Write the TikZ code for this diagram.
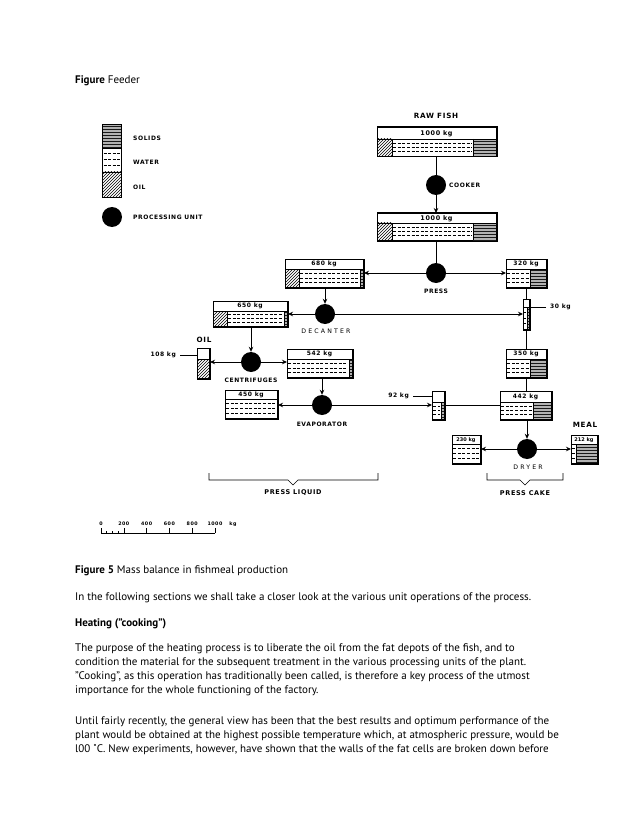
\documentclass[tikz,border=0pt]{standalone}
\usepackage{fontspec}
\setmainfont{PT Sans}
\newfontfamily\dfont[LetterSpace=10]{DejaVu Sans}
\newfontfamily\nfont[LetterSpace=0]{DejaVu Sans}
\newfontfamily\wfont[LetterSpace=35]{DejaVu Sans}
\usetikzlibrary{patterns,calc,arrows.meta}

\tikzset{
  boxn/.style={draw, line width=1pt, inner sep=0pt, fill=white},
  unitc/.style={circle, fill=black, minimum size=20pt, inner sep=0pt},
  flow/.style={line width=1pt},
  arr/.style={flow, -{Stealth[length=5pt,width=4.5pt]}},
  lbl/.style={font=\dfont\bfseries\fontsize{6}{7}\selectfont, inner sep=0pt},
  biglbl/.style={font=\dfont\bfseries\fontsize{7.2}{8}\selectfont, inner sep=0pt},
  wlbl/.style={font=\wfont\fontsize{6.2}{7}\selectfont, inner sep=0pt},
  waterdash/.style={line width=0.75pt, dash pattern=on 3pt off 1.6pt},
  oilfill/.style={pattern=north east lines, pattern color=black},
  body/.style={anchor=base west, inner sep=0pt, font=\fontsize{11}{13}\selectfont},
  thinl/.style={line width=0.6pt}
}

% name, x, y, w, hl, hb, label, oilw, solidw
\newcommand\massbox[9]{%
  \node[boxn, anchor=north west, minimum width=#4pt, minimum height=#5pt+#6pt] (#1) at (#2,#3) {};
  \pgfmathsetmacro\mbww{#4-#8-#9}%
  \ifdim #8pt>0pt
    \fill[oilfill] (#2,#3+#5) rectangle (#2+#8,#3+#5+#6);
    \draw[thinl] (#2+#8,#3+#5) -- (#2+#8,#3+#5+#6);
  \fi
  \ifdim #9pt>0pt
    \fill[gray!60] (#2+#4-#9,#3+#5) rectangle (#2+#4,#3+#5+#6);
    \fill[pattern=horizontal lines, pattern color=black!90] (#2+#4-#9,#3+#5) rectangle (#2+#4,#3+#5+#6);
    \draw[thinl] (#2+#4-#9,#3+#5) -- (#2+#4-#9,#3+#5+#6);
  \fi
  \ifdim \mbww pt>3pt
    \foreach \k in {1,2,3}{
      \draw[waterdash] (#2+#8+1.2,#3+#5+#6*\k/4) -- (#2+#4-#9-1.2,#3+#5+#6*\k/4);
    }
  \fi
  \draw[thinl] (#2,#3+#5) -- (#2+#4,#3+#5);
  \draw[line width=1pt] (#1.north west) rectangle (#1.south east);
  \node[lbl] at (#2+#4/2,#3+#5/2+0.3) {#7};
}

\begin{document}
\begin{tikzpicture}[x=1pt,y=-1pt]
\useasboundingbox (0,0) rectangle (638,826);
\fill[white] (0,0) rectangle (638,826);

% heading
\node[body] (head) at (75,84) {\textbf{Figure} Feeder};

% ---------- legend ----------
\fill[gray!60] (102,125) rectangle (121,148);
\fill[pattern=horizontal lines, pattern color=black!90] (102,125) rectangle (121,148);
\foreach \yy in {153,159,165}{\draw[waterdash] (103.5,\yy) -- (119.5,\yy);}
\fill[oilfill] (102,172) rectangle (121,198);
\draw[line width=1pt] (102,125) rectangle (121,198);
\draw[thinl] (102,148) -- (121,148);
\draw[thinl] (102,172) -- (121,172);
\node[lbl, anchor=west] (lsol) at (133,138) {SOLIDS};
\node[lbl, anchor=west] (lwat) at (133,162) {WATER};
\node[lbl, anchor=west] (loil) at (133,187) {OIL};
\node[unitc] (lunit) at (112,217) {};
\node[lbl, anchor=west] (lpu) at (133,217) {PROCESSING UNIT};

% ---------- boxes ----------
\node[biglbl] (rawfish) at (436,116) {RAW FISH};
\massbox{raw}{377}{127}{119}{12}{17}{\fontsize{6.4}{7}\selectfont 1000 kg}{15}{23}
\massbox{cooked}{377}{213}{119}{10}{17}{\fontsize{6.4}{7}\selectfont 1000 kg}{15}{23}
\massbox{b680}{285}{259}{78}{10}{18}{680 kg}{14}{3}
\massbox{b320}{506}{259}{40}{10}{18}{320 kg}{0}{16}
\massbox{s30}{523}{299}{6}{8}{22}{}{0}{2}
\massbox{b650}{213}{301}{74}{10}{15}{650 kg}{14}{3}
\massbox{oilbox}{197}{348}{12}{11}{19}{}{12}{0}
\massbox{b542}{287}{349}{65}{10}{18}{542 kg}{0}{3}
\massbox{b350}{506}{349}{40}{10}{18}{350 kg}{0}{16}
\massbox{b450}{225}{390}{52}{9}{19}{450 kg}{0}{0}
\massbox{s92}{432}{391}{12}{11}{17}{}{0}{3}
\massbox{b442}{500}{391}{51}{11}{17}{442 kg}{0}{18}
\massbox{b230}{452}{435}{28}{9}{19}{\nfont\bfseries\fontsize{5}{6}\selectfont 230 kg}{0}{0}
\massbox{b212}{571}{435}{26}{9}{19}{\nfont\bfseries\fontsize{5}{6}\selectfont 212 kg}{0}{21}

% ---------- processing units ----------
\node[unitc] (cooker) at (436,185) {};
\node[unitc] (press) at (436,273) {};
\node[unitc] (decanter) at (325,314) {};
\node[unitc] (centr) at (251,362) {};
\node[unitc] (evap) at (322,405) {};
\node[unitc] (dryer) at (527,449) {};

\node[lbl, anchor=west] (tcooker) at (449,185) {COOKER};
\node[lbl] (tpress) at (436,291) {PRESS};
\node[wlbl] (tdec) at (326,331) {DECANTER};
\node[lbl] (tcentr) at (251,380) {CENTRIFUGES};
\node[lbl] (tevap) at (322,424) {EVAPORATOR};
\node[wlbl] (tdryer) at (528,467) {DRYER};
\node[biglbl] (tmeal) at (585,425) {MEAL};
\node[biglbl] (toil) at (204,340) {OIL};

% ---------- connectors ----------
\draw[flow] (cooker |- raw.south) -- (cooker.north);
\draw[arr] (cooker.south) -- (cooker |- cooked.north);
\draw[flow] (press |- cooked.south) -- (press.north);
\draw[arr] (press.west) -- (press -| b680.east);
\draw[arr] (press.east) -- (press -| b320.west);
\draw[arr] (decanter |- b680.south) -- (decanter.north);
\draw[arr] (decanter.west) -- (decanter -| b650.east);
\draw[arr] (decanter.east) -- (decanter -| s30.west);
\draw[flow] (s30 |- b320.south) -- (s30.north);
\draw[flow] (s30.south) -- (s30 |- b350.north);
\draw[arr] (centr |- b650.south) -- (centr.north);
\draw[arr] (centr.west) -- (centr -| oilbox.east);
\draw[arr] (centr.east) -- (centr -| b542.west);
\draw[arr] (evap |- b542.south) -- (evap.north);
\draw[arr] (evap.west) -- (evap -| b450.east);
\draw[arr] (evap.east) -- (evap -| s92.west);
\draw[flow] (s92.east |- evap) -- (evap -| b442.west);
\draw[flow] (b350.south) -- (b350.south |- b442.north);
\draw[arr] (dryer |- b442.south) -- (dryer.north);
\draw[arr] (dryer.west) -- (dryer -| b230.east);
\draw[arr] (dryer.east) -- (dryer -| b212.west);

% side quantities
\node[lbl, anchor=east] (t108) at (176,355) {108 kg};
\draw[thinl] ($(t108.east)+(4,0)$) -- (t108 -| oilbox.west);
\node[lbl, anchor=west] (t30) at (550,307) {30 kg};
\draw[thinl] ($(t30.west)+(-4,0)$) -- (t30 -| s30.east);
\node[lbl, anchor=east] (t92) at (409,396) {92 kg};
\draw[thinl] ($(t92.east)+(4,0)$) -- (t92 -| s92.west);

% ---------- brackets ----------
\draw[thinl] (209,473) -- (209,480) -- (288,480) -- (293,485) -- (298,480) -- (378,480) -- (378,473);
\node[lbl, font=\dfont\bfseries\fontsize{6.5}{7}\selectfont] (tpl) at (293,493) {PRESS LIQUID};
\draw[thinl] (487,473) -- (487,480) -- (520,480) -- (525,485) -- (530,480) -- (563,480) -- (563,473);
\node[lbl, font=\dfont\bfseries\fontsize{6.5}{7}\selectfont] (tpc) at (525,493) {PRESS CAKE};

% ---------- scale ----------
\draw[thinl] (101,533) -- (215,533);
\foreach \sx in {101,123.8,146.6,169.4,192.2,215}{\draw[thinl] (\sx,533) -- (\sx,528);}
\foreach \sx in {106.7,112.4,118.1}{\draw[thinl] (\sx,533) -- (\sx,530.5);}
\foreach \sx/\st in {101/0,123.8/200,146.6/400,169.4/600,192.2/800,215/1000}{
  \node[inner sep=0pt, font=\dfont\bfseries\fontsize{4.8}{5}\selectfont] at (\sx,524) {\st};}
\node[inner sep=0pt, font=\dfont\bfseries\fontsize{4.8}{5}\selectfont] (tkg) at (233,524) {kg};

% ---------- body text ----------
\node[body] (cap) at (75,573) {\textbf{Figure 5} Mass balance in fishmeal production};
\node[body] (p1) at (75,600) {In the following sections we shall take a closer look at the various unit operations of the process.};
\node[body] (h1) at (75,626) {\textbf{Heating ("cooking")}};
\node[body] (p2a) at (75,651) {The purpose of the heating process is to liberate the oil from the fat depots of the fish, and to};
\node[body] (p2b) at (75,665) {condition the material for the subsequent treatment in the various processing units of the plant.};
\node[body] (p2c) at (75,679) {"Cooking", as this operation has traditionally been called, is therefore a key process of the utmost};
\node[body] (p2d) at (75,693) {importance for the whole functioning of the factory.};
\node[body] (p3a) at (75,724) {Until fairly recently, the general view has been that the best results and optimum performance of the};
\node[body] (p3b) at (75,738) {plant would be obtained at the highest possible temperature which, at atmospheric pressure, would be};
\node[body] (p3c) at (75,752) {l00 ˚C. New experiments, however, have shown that the walls of the fat cells are broken down before};
\end{tikzpicture}
\end{document}
